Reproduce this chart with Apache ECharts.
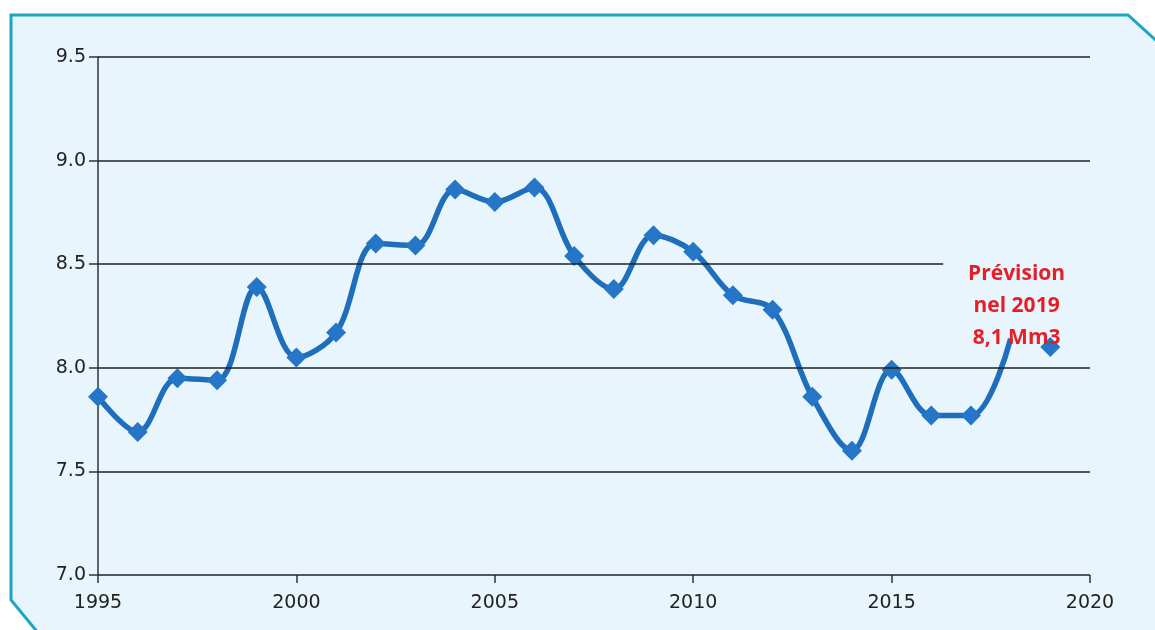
<!DOCTYPE html>
<html><head><meta charset="utf-8">
<script src="https://cdn.jsdelivr.net/npm/echarts@6/dist/echarts.min.js"></script>
<style>html,body{margin:0;padding:0;background:#fff}#c{width:1155px;height:630px}</style>
</head><body><div id="c"></div>
<script>
const years = [1995,1996,1997,1998,1999,2000,2001,2002,2003,2004,2005,2006,2007,2008,2009,2010,2011,2012,2013,2014,2015,2016,2017,2018];
const values = [7.86,7.69,7.95,7.94,8.39,8.05,8.17,8.60,8.59,8.86,8.80,8.87,8.54,8.38,8.64,8.56,8.35,8.28,7.86,7.60,7.99,7.77,7.77,8.14];
const forecastYear = [2019];
const forecastValue = [8.1];
const gridValues = [7.5, 8.0, 8.5, 9.0, 9.5];
const gridEnd = [2020, 2020, 2016.3, 2020, 2020];
const noteText = 'Prévision\nnel 2019\n8,1 Mm3';

const chart = echarts.init(document.getElementById('c'));
const lineData = years.map((y,i)=>({value:[y,values[i]], symbol: i===years.length-1?'none':'diamond'}));
chart.setOption({
  animation:false,
  backgroundColor:'#ffffff',
  graphic:[{
    type:'polygon', z:-10, silent:true,
    shape:{points:[[11,15],[1128,15],[1160,44],[1160,640],[44,640],[11,600]]},
    style:{fill:'#e9f5fc', stroke:'#1ba6c6', lineWidth:3}
  }],
  grid:{left:98,right:65,top:57,bottom:55},
  xAxis:{type:'value',min:1995,max:2020,interval:5,
    axisLine:{show:false},
    axisTick:{show:true,length:8,lineStyle:{color:'#333',width:1.5}},
    axisLabel:{color:'#222',fontSize:19,fontFamily:'DejaVu Sans',margin:19,formatter:v=>String(v)},
    splitLine:{show:false}},
  yAxis:{type:'value',min:7.0,max:9.5,interval:0.5,
    axisLine:{show:true,lineStyle:{color:'#333',width:1.5}},
    axisTick:{show:true,length:9,lineStyle:{color:'#333',width:1.5}},
    axisLabel:{color:'#222',fontSize:19,fontFamily:'DejaVu Sans',margin:12,formatter:v=>v.toFixed(1)},
    splitLine:{show:false}},
  series:[
    {type:'line',data:lineData,smooth:0.35,symbolSize:20,
     lineStyle:{color:'#1f6ebc',width:5.5},
     itemStyle:{color:'#2576c7',opacity:1},
     z:3,
     markLine:{silent:true,symbol:'none',label:{show:false},
       lineStyle:{color:'#222',width:1.5,type:'solid'},
       data:[[{coord:[1995,7.0]},{coord:[2020,7.0]}]].concat(
         gridValues.map((g,i)=>[{coord:[1995,g]},{coord:[gridEnd[i],g]}]))}
    },
    {type:'scatter',data:forecastYear.map((y,i)=>[y,forecastValue[i]]),symbol:'diamond',symbolSize:20,
     itemStyle:{color:'#2576c7',opacity:1},z:3},
    {type:'scatter',data:[[2018.15,8.53]],symbolSize:0,z:5,itemStyle:{opacity:1},
     label:{show:true,position:'inside',formatter:noteText,color:'#e61e26',fontSize:21,fontWeight:'bold',
       fontFamily:'Open Sans',lineHeight:32,align:'center',verticalAlign:'top'}}
  ]
});
</script></body></html>
